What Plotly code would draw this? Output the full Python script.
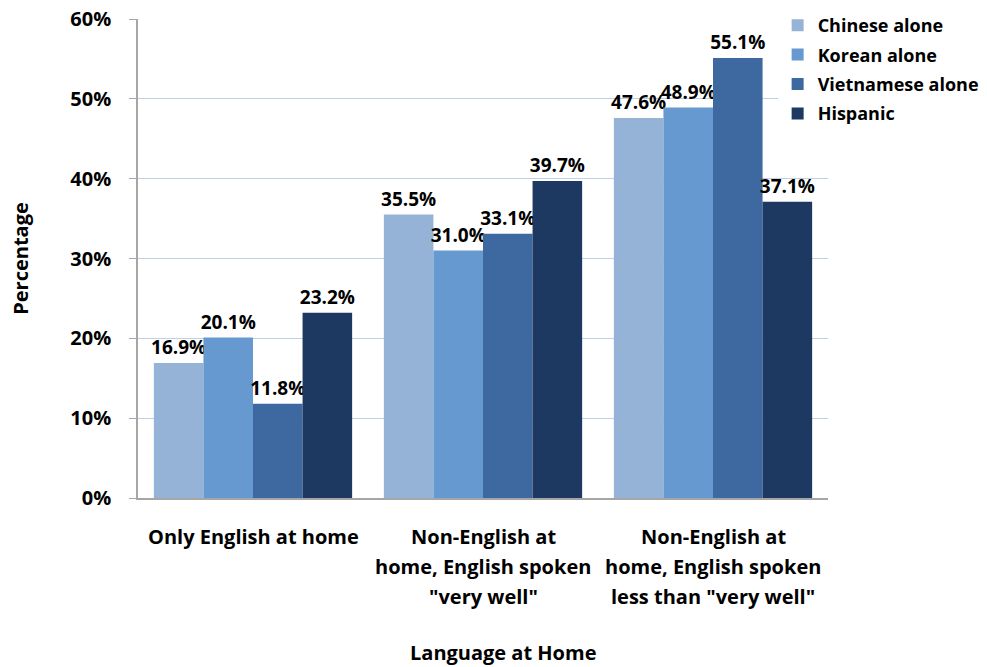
import plotly.graph_objects as go

# Share of each group by language spoken at home (percent)
categories = ["Only English at home",
              "Non-English at home, English spoken \"very well\"",
              "Non-English at home, English spoken less than \"very well\""]
category_lines = [["Only English at home"],
                  ["Non-English at", "home, English spoken", "\"very well\""],
                  ["Non-English at", "home, English spoken", "less than \"very well\""]]
series_names = ["Chinese alone", "Korean alone", "Vietnamese alone", "Hispanic"]
chinese = [16.9, 35.5, 47.6]
korean = [20.1, 31.0, 48.9]
vietnamese = [11.8, 33.1, 55.1]
hispanic = [23.2, 39.7, 37.1]
series_values = [chinese, korean, vietnamese, hispanic]
colors = ["#95B3D7", "#6799D1", "#3D68A0", "#1D3961"]
y_ticks = [0, 10, 20, 30, 40, 50, 60]
y_tick_labels = ["0%", "10%", "20%", "30%", "40%", "50%", "60%"]

FONT = "Open Sans"
W, H = 987, 667
L, R, T, B = 138, 159, 19, 169

fig = go.Figure()
for i, (name, vals, col) in enumerate(zip(series_names, series_values, colors)):
    fig.add_trace(go.Bar(
        name=name, x=categories, y=vals,
        marker=dict(color=col, line=dict(width=0)),
        text=vals, texttemplate="%{y:.1f}%", textposition="outside",
        textfont=dict(family=FONT, size=19, color="black", weight="bold"),
        constraintext="none", cliponaxis=False,
        legendgroup=f"g{i}",
    ))

# category labels below the axis, one annotation per line
plot_h = H - T - B
annotations = []
for cat, lines in zip(categories, category_lines):
    for j, line in enumerate(lines):
        annotations.append(dict(
            x=cat, xref="x", y=-(38 + 30 * j) / plot_h, yref="paper",
            text=line, showarrow=False,
            font=dict(family=FONT, size=20, color="black", weight="bold"),
            xanchor="center", yanchor="middle",
        ))

annotations.append(dict(
    x=(503 - L) / (W - L - R), xref="paper", y=-(652 - (H - B)) / plot_h, yref="paper",
    text="Language at Home", showarrow=False,
    font=dict(family=FONT, size=20, color="black", weight="bold"),
    xanchor="center", yanchor="middle",
))

fig.update_layout(
    width=W, height=H,
    margin=dict(l=L, r=R, t=T, b=B, pad=0, autoexpand=False),
    paper_bgcolor="white", plot_bgcolor="white",
    barmode="group", bargap=0.138, bargroupgap=0,
    font=dict(family=FONT, color="black"),
    showlegend=True,
    legend=dict(
        x=0.927, xanchor="left", y=1 - 7 / H, yref="container", yanchor="top",
        bgcolor="white", tracegroupgap=3,
        font=dict(family=FONT, size=18, color="black", weight="bold"),
        itemwidth=30,
    ),
    annotations=annotations,
)
fig.update_xaxes(
    showticklabels=False, ticks="", showgrid=False,
    showline=True, linecolor="#A6A6A6", linewidth=1.5,
)
fig.update_yaxes(
    range=[0, 60], tickvals=y_ticks, ticktext=y_tick_labels,
    tickfont=dict(family=FONT, size=20, color="black", weight="bold"),
    showgrid=True, gridcolor="#BCD0EA", gridwidth=1,
    showline=True, linecolor="#A6A6A6", linewidth=1.5,
    ticks="outside", ticklen=7, tickcolor="#A6A6A6", ticklabelstandoff=14,
    title=dict(text="Percentage", standoff=36,
               font=dict(family=FONT, size=20, color="black", weight="bold")),
    zeroline=False,
)

fig.write_html("out.html")
